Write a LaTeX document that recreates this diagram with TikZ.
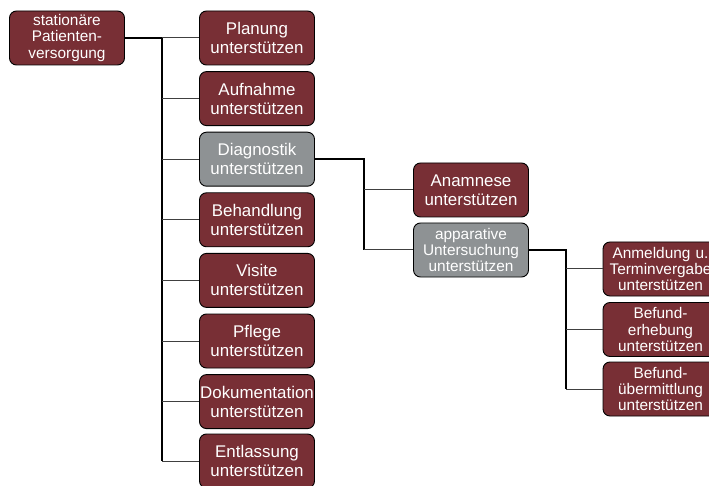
\documentclass[tikz,border=0pt]{standalone}
\usepackage{fontspec}
\setmainfont{Liberation Sans}
\begin{document}
\begin{tikzpicture}[x=1pt,y=-1pt,
  box/.style={draw=black, line width=0.9pt, rounded corners=7pt,
    minimum width=115pt, minimum height=54pt, inner sep=0pt,
    text=white, align=center, text width=115pt},
  redbox/.style={box, fill=boxred},
  graybox/.style={box, fill=boxgray},
  big/.style={font=\fontsize{16.9}{19}\selectfont},
  small/.style={font=\fontsize{15.4}{16.2}\selectfont},
  parent/.style={draw=black, line width=1.6pt},
  child/.style={draw=black!75, line width=1pt}]
\definecolor{boxred}{HTML}{782F35}
\definecolor{boxgray}{HTML}{8E9294}
\useasboundingbox (0,0) rectangle (709,486);

% root
\node[redbox, small] (root) at (67,38) {stationäre\\Patienten-\\versorgung};

% first level
\node[redbox, big]  (plan) at (257,38)    {Planung\\unterstützen};
\node[redbox, big]  (aufn) at (257,98.6)  {Aufnahme\\unterstützen};
\node[graybox, big] (diag) at (257,159.2) {Diagnostik\\unterstützen};
\node[redbox, big]  (beh)  at (257,219.8) {Behandlung\\unterstützen};
\node[redbox, big]  (vis)  at (257,280.4) {Visite\\unterstützen};
\node[redbox, big]  (pfl)  at (257,341)   {Pflege\\unterstützen};
\node[redbox, big]  (dok)  at (257,401.6) {Dokumentation\\unterstützen};
\node[redbox, big]  (ent)  at (257,461)   {Entlassung\\unterstützen};

% second level
\node[redbox, big]    (anam) at (471,190) {Anamnese\\unterstützen};
\node[graybox, small] (app)  at (471,250) {apparative\\Untersuchung\\unterstützen};

% third level
\node[redbox, small] (anm)  at (660.5,269)   {Anmeldung u.\\Terminvergabe\\unterstützen};
\node[redbox, small] (bef)  at (660.5,329.5) {Befund-\\erhebung\\unterstützen};
\node[redbox, small] (befu) at (660.5,389)   {Befund-\\übermittlung\\unterstützen};

% trunk positions
\coordinate (j1) at (162,0);
\coordinate (j2) at (364,0);
\coordinate (j3) at (566,0);

% root -> first level
\draw[parent] (root.east) -- (j1 |- root.east) -- (j1 |- ent.west);
\foreach \n in {plan,aufn,diag,beh,vis,pfl,dok,ent}
  \draw[child] (j1 |- \n.west) -- (\n.west);

% Diagnostik -> second level
\draw[parent] (diag.east) -- (j2 |- diag.east) -- (j2 |- app.west);
\foreach \n in {anam,app}
  \draw[child] (j2 |- \n.west) -- (\n.west);

% apparative Untersuchung -> third level
\draw[parent] (app.east) -- (j3 |- app.east) -- (j3 |- befu.west);
\foreach \n in {anm,bef,befu}
  \draw[child] (j3 |- \n.west) -- (\n.west);
\end{tikzpicture}
\end{document}
